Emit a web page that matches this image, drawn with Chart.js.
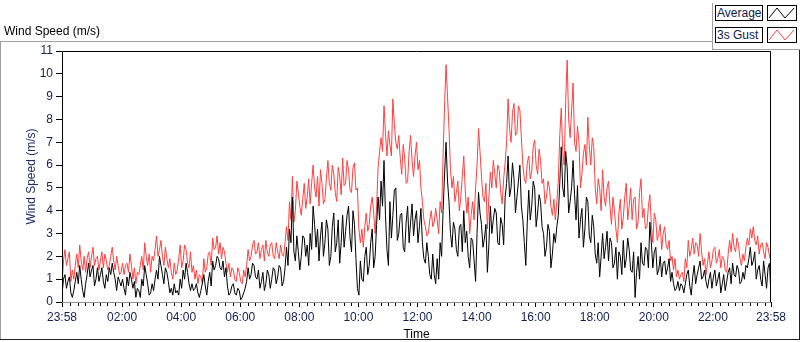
<!DOCTYPE html>
<html>
<head>
<meta charset="utf-8">
<script src="https://cdn.jsdelivr.net/npm/chart.js@4.4.0/dist/chart.umd.min.js"></script>
<style>
body { margin: 0; background: #fff; font-family: "Liberation Sans", Arial, sans-serif; }
#wrap { position: relative; width: 800px; height: 342px; overflow: hidden; }
#chart { position: absolute; left: 0; top: 0; }
.ln { position: absolute; }
.txt { position: absolute; font-size: 12px; line-height: 14px; white-space: nowrap; }
.lbox { position: absolute; left: 715px; width: 45px; height: 14px; border: 1px solid #000; background: #fff;
        font-size: 12px; line-height: 14px; color: #10204a; padding-left: 1px; box-sizing: content-box; }
.licon { position: absolute; left: 767px; width: 28px; height: 14px; border: 1px solid #000; background: #fff; }
</style>
</head>
<body>
<div id="wrap">
  <canvas id="chart" width="800" height="342"></canvas>

  <!-- frame -->
  <div class="ln" style="left:0;top:41px;width:712px;height:1px;background:#a0a0a0"></div>
  <div class="ln" style="left:0;top:41px;width:1px;height:299px;background:#a0a0a0"></div>
  <div class="ln" style="left:0;top:339px;width:800px;height:1px;background:#202020"></div>
  <div class="ln" style="left:799px;top:49px;width:1px;height:291px;background:#202020"></div>
  <div class="ln" style="left:712px;top:3px;width:1px;height:47px;background:#a0a0a0"></div>
  <div class="ln" style="left:712px;top:49px;width:88px;height:1px;background:#a0a0a0"></div>

  <div class="txt" style="left:4px;top:24px;color:#000">Wind Speed (m/s)</div>

  <!-- legend -->
  <div class="lbox" style="top:5px">Average</div>
  <div class="licon" style="top:5px">
    <svg width="28" height="14"><polyline points="1,12 9,2 17,12 26,2" fill="none" stroke="#000" stroke-width="1"/></svg>
  </div>
  <div class="lbox" style="top:27px">3s Gust</div>
  <div class="licon" style="top:27px">
    <svg width="28" height="14"><polyline points="1,12 9,2 17,12 26,2" fill="none" stroke="#ff4040" stroke-width="1"/></svg>
  </div>
</div>

<script>
// --- DATA (one sample every 3 minutes, starting 23:58) ---
const START_CLOCK_MIN = 23 * 60 + 58;
const SAMPLE_MIN = 3;

const AVERAGE = [
    0.3,1.0, 1.2,0.6, 0.9,1.1, 0.4,0.2, 0.5,0.9, 1.3,0.8, 1.6,1.0, 0.5,0.2, 0.8,1.2, 1.7,1.1,
    1.4,1.6, 0.7,1.0, 1.5,0.9, 1.2,1.5, 0.9,0.6, 1.2,0.9, 1.5,1.2, 1.7,1.3, 1.0,0.5, 1.1,0.9,
    0.7,1.0, 0.6,0.3, 1.1,0.7, 1.3,1.0, 0.6,0.9, 0.2,0.6, 0.5,0.2, 1.0,0.7, 1.6,1.2, 0.8,0.3,
    0.4,0.8, 0.5,1.0, 1.4,1.0, 2.0,1.6, 1.2,0.8, 1.5,1.3, 0.9,0.4, 0.6,0.3, 0.8,0.4, 0.5,0.3,
    1.0,0.6, 1.4,1.0, 1.7,1.3, 0.8,0.5, 0.8,0.5, 0.6,0.8, 0.4,0.2, 0.5,0.8, 1.2,0.7, 0.3,0.9,
    1.3,0.7, 1.8,1.4, 1.6,2.0, 1.9,1.5, 1.4,1.8, 1.1,1.5, 0.7,0.3, 0.4,0.7, 0.8,0.4, 0.3,0.6,
    0.5,0.1, 0.2,0.4, 0.6,0.9, 1.5,1.0, 1.2,1.7, 1.6,1.1, 1.0,1.4, 0.6,0.9, 1.3,0.5, 0.8,1.4,
    1.2,0.6, 1.0,1.5, 1.4,0.8, 1.1,1.6, 1.5,0.7, 0.9,1.5, 2.4,1.6, 3.2,2.6, 4.6,2.2, 1.8,2.9,
    2.2,1.4, 2.0,2.9, 2.8,2.0, 2.5,1.6, 3.0,2.3, 4.2,3.4, 2.4,3.2, 1.8,2.9, 3.5,2.0, 2.6,3.6,
    3.2,1.6, 2.0,3.3, 3.9,2.2, 2.6,3.6, 1.7,2.6, 3.8,2.4, 3.1,3.8, 4.2,2.8, 2.2,4.0, 3.4,1.9,
    0.6,0.3, 1.8,1.0, 0.9,2.0, 2.4,1.2, 1.6,2.6, 3.2,1.5, 2.0,3.4, 4.6,3.6, 5.3,4.2, 6.2,3.8,
    2.3,1.6, 4.4,2.8, 3.8,4.9, 5.0,2.7, 3.0,3.8, 3.9,2.4, 2.2,3.5, 4.2,2.6, 3.5,4.3, 2.9,3.6,
    4.0,2.6, 3.3,4.1, 2.6,1.9, 1.7,2.6, 2.0,1.2, 1.0,2.1, 1.2,0.8, 1.9,1.0, 2.6,2.0, 4.0,5.6,
    7.0,5.3, 4.4,3.0, 2.4,3.5, 3.2,2.3, 2.0,3.3, 3.4,2.2, 4.0,2.6, 3.1,2.0, 1.5,2.8, 2.7,1.8,
    0.9,3.0, 4.8,3.9, 3.4,2.4, 2.8,3.4, 1.3,2.5, 4.2,3.0, 3.6,4.1, 3.9,2.6, 2.5,3.7, 3.4,2.5,
    4.6,5.2, 6.4,4.6, 5.0,6.1, 5.4,3.9, 4.6,5.3, 6.0,4.2, 3.6,2.6, 1.6,3.5, 4.9,3.6, 4.2,5.3,
    5.0,3.3, 3.9,4.7, 4.4,3.3, 3.0,2.0, 2.4,3.4, 3.1,1.5, 2.1,3.0, 2.6,3.3, 3.8,5.2, 6.8,5.0,
    4.6,6.6, 5.9,3.9, 4.4,5.0, 6.2,4.7, 3.6,5.1, 2.8,3.6, 4.1,2.4, 3.2,4.6, 4.4,2.9, 2.6,3.8,
    3.3,2.1, 1.7,2.6, 1.1,2.0, 3.0,1.9, 2.4,3.1, 1.8,2.8, 2.6,1.5, 1.7,2.4, 1.0,2.2, 2.0,1.2,
    2.7,1.5, 1.9,2.8, 2.3,1.4, 1.3,2.2, 0.2,1.3, 2.0,1.0, 2.6,1.7, 1.6,2.4, 2.3,1.5, 3.5,2.6,
    1.5,2.2, 2.4,1.2, 1.4,2.0, 1.1,1.7, 1.8,1.2, 1.5,1.9, 0.9,1.3, 0.8,0.5, 0.6,0.9, 0.5,0.8,
    0.7,0.4, 0.8,1.2, 1.4,0.7, 0.3,1.1, 1.6,0.8, 1.2,1.5, 1.8,1.0, 1.1,1.4, 0.9,0.6, 1.0,1.3,
    0.6,1.1, 1.4,0.7, 1.0,1.3, 0.4,0.8, 1.2,0.5, 0.9,1.3, 1.5,0.8, 1.7,1.2, 1.1,1.6, 1.4,0.8,
    0.9,1.3, 1.0,1.6, 1.5,1.9, 2.4,1.6, 1.8,2.2, 1.0,1.4, 1.6,1.0, 0.7,1.8, 1.2,0.6, 1.5,1.7,
    0.2
];

const GUST_3S = [
    0.7,1.8, 2.3,1.6, 1.9,2.2, 0.9,1.4, 1.0,1.6, 2.1,1.5, 2.5,1.8, 1.4,2.0, 1.3,1.9, 2.2,1.5,
    2.0,2.4, 1.6,1.9, 2.0,1.4, 1.8,2.2, 1.5,2.1, 1.8,1.4, 1.6,2.0, 2.4,1.8, 1.4,2.0, 1.6,1.2,
    1.3,1.7, 1.2,1.6, 1.7,1.3, 2.1,1.6, 1.0,1.5, 0.8,1.3, 1.2,1.6, 2.0,1.4, 2.6,2.0, 1.6,2.1,
    1.3,2.0, 1.8,2.3, 2.9,2.0, 2.3,2.7, 2.0,1.6, 2.4,1.9, 1.5,1.9, 1.3,1.0, 1.7,1.2, 1.4,1.9,
    2.5,1.5, 1.8,2.5, 2.3,1.7, 1.5,2.2, 1.3,1.6, 1.0,1.4, 0.8,1.2, 1.1,0.8, 1.9,1.3, 1.5,2.1,
    2.2,1.6, 2.8,2.3, 2.4,2.9, 2.1,2.6, 1.9,2.4, 2.2,1.7, 1.3,1.7, 1.1,1.5, 1.4,1.0, 0.9,1.5,
    1.3,0.9, 0.8,1.4, 1.1,1.6, 2.3,1.8, 2.0,2.5, 2.7,2.1, 2.2,2.6, 1.9,2.3, 2.5,1.8, 2.7,2.2,
    2.0,2.5, 2.6,2.0, 1.9,2.6, 2.2,1.9, 2.5,2.1, 2.0,2.6, 3.3,2.7, 4.4,3.6, 5.5,3.5, 4.0,5.3,
    4.8,4.2, 3.8,4.5, 5.2,4.1, 4.6,5.4, 4.3,5.2, 6.0,5.0, 4.6,5.5, 4.2,5.8, 5.2,4.3, 4.5,5.4,
    6.2,5.2, 4.9,6.0, 5.6,4.8, 4.4,5.9, 5.5,4.7, 6.3,5.1, 5.2,6.2, 5.8,4.9, 4.8,5.9, 6.1,4.9,
    5.0,3.2, 2.6,3.2, 2.4,3.3, 3.9,3.1, 3.4,4.2, 4.6,3.9, 3.0,4.2, 5.9,6.6, 7.2,6.6, 8.6,7.4,
    6.4,7.5, 6.9,6.4, 8.9,7.8, 7.0,6.7, 7.3,6.3, 5.6,6.9, 6.3,5.2, 5.3,6.6, 7.3,6.2, 5.5,6.4,
    7.0,5.8, 6.2,5.0, 4.4,3.6, 3.3,2.9, 3.0,3.6, 4.0,3.3, 3.5,4.1, 3.6,3.0, 4.4,3.9, 6.4,8.6,
    10.4,9.0, 7.6,5.8, 5.0,5.5, 4.4,4.8, 5.3,4.0, 4.6,5.5, 6.4,4.9, 3.9,4.6, 3.0,3.8, 4.4,3.6,
    5.0,6.0, 7.6,6.6, 5.5,4.6, 4.4,5.2, 3.2,4.6, 5.7,5.0, 6.2,5.6, 5.0,6.0, 5.8,4.8, 4.3,5.4,
    6.1,7.0, 8.9,7.6, 7.0,8.3, 8.7,7.3, 7.4,8.6, 8.4,7.2, 6.0,5.4, 5.2,6.1, 6.4,5.4, 5.7,6.8,
    7.1,6.0, 5.6,6.7, 6.2,5.2, 5.4,4.3, 4.6,5.3, 5.0,4.2, 3.8,4.5, 3.6,4.4, 5.3,7.3, 8.5,6.6,
    6.0,8.8, 10.6,8.0, 7.2,8.4, 9.6,7.0, 6.6,7.7, 7.0,5.0, 5.6,6.5, 6.9,6.0, 8.1,6.8, 6.0,7.2,
    6.8,5.0, 4.3,5.4, 5.0,4.0, 5.8,4.6, 4.2,5.0, 5.3,4.2, 3.4,4.6, 4.0,3.2, 2.6,3.9, 4.5,3.2,
    3.7,4.6, 5.2,3.6, 4.2,5.0, 3.6,4.5, 4.6,3.2, 3.5,4.8, 5.4,3.7, 4.1,3.2, 3.3,4.2, 4.7,3.4,
    2.6,3.9, 3.6,2.7, 3.0,3.4, 2.3,3.0, 3.3,2.5, 2.3,2.7, 1.8,2.0, 1.4,1.9, 1.1,1.4, 1.0,1.2,
    1.3,0.9, 1.9,1.5, 2.7,2.0, 2.3,2.8, 2.1,2.6, 2.5,2.0, 3.0,2.2, 1.6,1.9, 1.2,1.7, 2.2,1.5,
    1.8,2.3, 2.4,1.7, 1.9,2.3, 1.5,2.0, 1.9,1.4, 1.3,2.1, 2.7,2.2, 3.0,2.4, 2.2,2.8, 2.5,1.9,
    1.6,2.1, 1.8,2.4, 2.8,2.5, 3.2,2.8, 3.3,2.7, 2.5,2.9, 2.1,2.5, 2.6,2.2, 1.9,2.6, 2.4,2.0,
    1.8
];

const Y_MAX = 11;
const X_SPAN_MIN = 1440;

const FONT = '"Liberation Sans", Arial, sans-serif';
const TICK_COLOR = '#14204f';

function clockOf(v) {
    return (START_CLOCK_MIN + v) % 1440;
}
function fmtClock(c) {
    const h = Math.floor(c / 60), m = c % 60;
    return String(h).padStart(2, '0') + ':' + String(m).padStart(2, '0');
}
function isMajor(v) {
    return v === 0 || v === X_SPAN_MIN || clockOf(v) % 120 === 0;
}

// ticks: both ends plus every quarter hour of clock time
const xTickValues = [0];
for (let m = 2; m < X_SPAN_MIN; m += 15) xTickValues.push(m);
xTickValues.push(X_SPAN_MIN);

const toPoints = arr => arr.map((v, i) => ({ x: i * SAMPLE_MIN, y: v }));

// plot box + minor ticks
const frameDeco = {
    id: 'frameDeco',
    afterDraw(chart) {
        const { ctx, chartArea: a } = chart;
        const xs = chart.scales.x;
        ctx.save();
        ctx.lineWidth = 1;
        ctx.strokeStyle = '#000';
        ctx.beginPath();
        ctx.moveTo(a.left + 0.5, a.bottom);
        ctx.lineTo(a.left + 0.5, a.top + 0.5);
        ctx.lineTo(a.right - 0.5, a.top + 0.5);
        ctx.lineTo(a.right - 0.5, a.bottom);
        ctx.stroke();
        ctx.strokeStyle = '#909090';
        ctx.beginPath();
        ctx.moveTo(a.left, a.bottom + 0.5);
        ctx.lineTo(a.right, a.bottom + 0.5);
        ctx.stroke();
        ctx.strokeStyle = '#000';
        ctx.beginPath();
        xTickValues.forEach(v => {
            if (isMajor(v)) return;
            const px = Math.round(xs.getPixelForValue(v)) + 0.5;
            ctx.moveTo(px, a.bottom + 1);
            ctx.lineTo(px, a.bottom + 4);
        });
        ctx.stroke();
        ctx.restore();
    }
};

new Chart(document.getElementById('chart'), {
    type: 'line',
    data: {
        datasets: [
            {
                label: '3s Gust',
                data: toPoints(GUST_3S),
                borderColor: '#ff4040',
                borderWidth: 1,
                pointRadius: 0,
                tension: 0,
                order: 2
            },
            {
                label: 'Average',
                data: toPoints(AVERAGE),
                borderColor: '#000000',
                borderWidth: 1,
                pointRadius: 0,
                tension: 0,
                order: 1
            }
        ]
    },
    options: {
        responsive: false,
        animation: false,
        layout: { padding: { top: 51, right: 29, left: 0, bottom: 0 } },
        plugins: { legend: { display: false }, tooltip: { enabled: false } },
        scales: {
            x: {
                type: 'linear',
                min: 0,
                max: X_SPAN_MIN,
                afterFit(s) { s.height = 40; },
                afterBuildTicks(s) { s.ticks = xTickValues.map(v => ({ value: v })); },
                border: { display: false },
                grid: {
                    drawOnChartArea: false,
                    drawTicks: true,
                    tickLength: 5,
                    tickColor: c => (c.tick && isMajor(c.tick.value)) ? '#000' : 'rgba(0,0,0,0)'
                },
                ticks: {
                    autoSkip: false,
                    maxRotation: 0,
                    padding: 3,
                    color: TICK_COLOR,
                    font: { family: FONT, size: 12 },
                    callback: v => {
                        if (v === 0 || v === X_SPAN_MIN) return fmtClock(clockOf(v));
                        if (v > 2 && clockOf(v) % 120 === 0) return fmtClock(clockOf(v));
                        return '';
                    }
                },
                title: {
                    display: true,
                    text: 'Time',
                    color: '#000',
                    font: { family: FONT, size: 12 },
                    padding: { top: 0, bottom: 0 }
                }
            },
            y: {
                min: 0,
                max: Y_MAX,
                afterFit(s) { s.width = 62; },
                border: { display: false },
                grid: { drawOnChartArea: false, drawTicks: true, tickLength: 6, tickColor: '#000' },
                ticks: {
                    stepSize: 1,
                    padding: 3,
                    color: TICK_COLOR,
                    font: { family: FONT, size: 12 }
                },
                title: {
                    display: true,
                    text: 'Wind Speed (m/s)',
                    color: '#1a2f6a',
                    font: { family: FONT, size: 12 },
                    padding: { top: 24, bottom: 0 }
                }
            }
        }
    },
    plugins: [frameDeco]
});
</script>
</body>
</html>
